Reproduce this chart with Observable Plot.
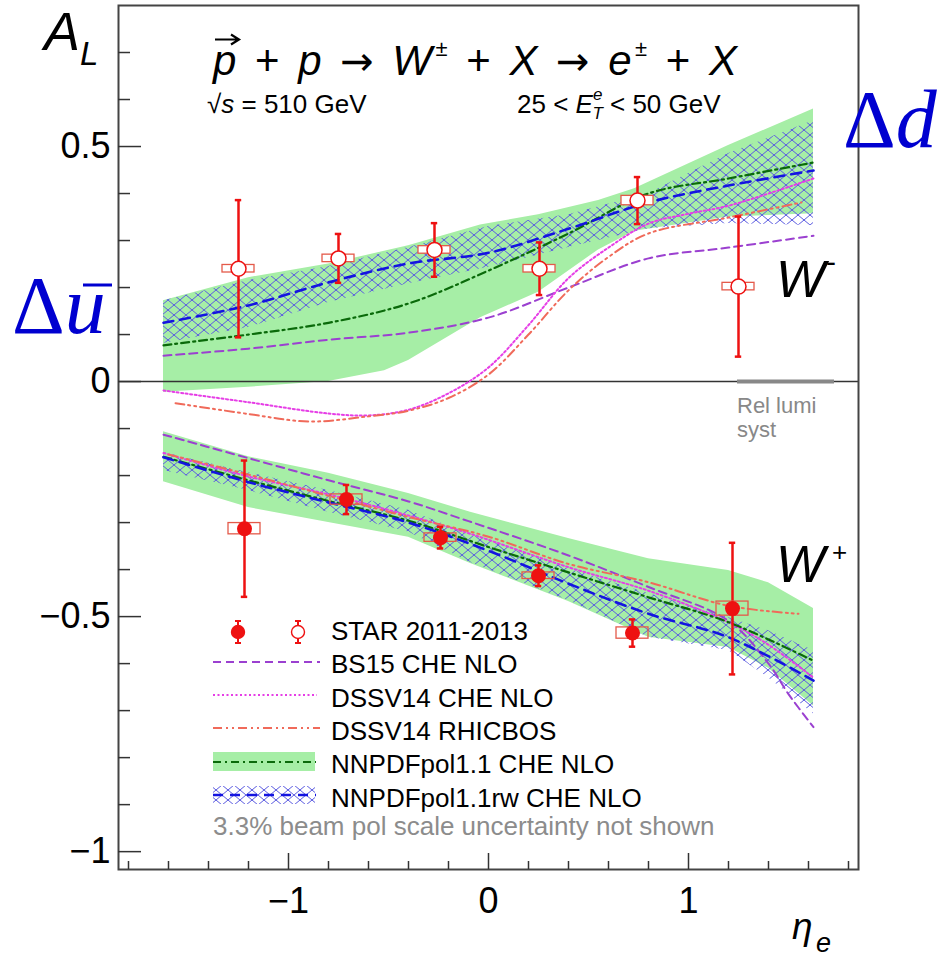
<!DOCTYPE html>
<html><head><meta charset="utf-8">
<script src="https://cdn.jsdelivr.net/npm/d3@7"></script>
<script src="https://cdn.jsdelivr.net/npm/@observablehq/plot@0.6"></script>
<style>body{margin:0;background:#fff}#chart{width:949px;height:960px}</style>
</head><body><div id="chart"></div>
<script>
// ---------- tick labels ----------
const xTickValues = [-1, 0, 1];
const xTickLabels = ["−1", "0", "1"];
const yTickValues = [-1, -0.5, 0, 0.5];
const yTickLabels = ["−1", "−0.5", "0", "0.5"];

// ---------- STAR 2011-2013 data ----------
const etaWm = [-1.25, -0.75, -0.27, 0.255, 0.745, 1.25];
const alWm  = [0.24, 0.262, 0.28, 0.24, 0.385, 0.202];
const errWm = [0.146, 0.052, 0.057, 0.056, 0.05, 0.149];
const sysWm = [0.008, 0.008, 0.008, 0.008, 0.01, 0.008];

const etaWp = [-1.22, -0.71, -0.24, 0.25, 0.72, 1.22];
const alWp  = [-0.313, -0.251, -0.332, -0.413, -0.535, -0.483];
const errWp = [0.145, 0.031, 0.023, 0.022, 0.029, 0.14];
const sysWp = [0.012, 0.011, 0.009, 0.007, 0.012, 0.015];

// ---------- theory curves ----------
const gridEta = [-1.625, -1.2, -0.8, -0.4, 0, 0.4, 0.8, 1.2, 1.625];

// BS15 CHE NLO
const bs15WmEta = gridEta;
const bs15Wm = [0.055, 0.07, 0.089, 0.104, 0.136, 0.2, 0.262, 0.285, 0.31];
const bs15WpEta = [-1.625, -1.2, -0.8, -0.4, -0.1, 0.4, 0.8, 1.2, 1.4, 1.5, 1.625];
const bs15Wp = [-0.113, -0.163, -0.21, -0.255, -0.297, -0.37, -0.437, -0.509, -0.6, -0.665, -0.735];

// DSSV14 CHE NLO
const dssvWmEta = [-1.625, -1.2, -0.8, -0.6, -0.4, -0.2, 0, 0.2, 0.4, 0.6, 0.8, 1.0, 1.2, 1.625];
const dssvWm = [-0.019, -0.044, -0.068, -0.072, -0.06, -0.025, 0.03, 0.12, 0.22, 0.285, 0.336, 0.357, 0.374, 0.432];
const dssvWpEta = [-1.625, -1.2, -0.8, -0.4, -0.09, 0.4, 0.8, 1.2, 1.4, 1.625];
const dssvWp = [-0.152, -0.202, -0.24, -0.285, -0.324, -0.395, -0.445, -0.512, -0.56, -0.63];

// DSSV14 RHICBOS
const rhicWmEta = [-1.565, -1.2, -0.9, -0.6, -0.4, -0.2, 0, 0.2, 0.4, 0.6, 0.8, 1.2, 1.565];
const rhicWm = [-0.046, -0.069, -0.085, -0.074, -0.062, -0.035, 0.015, 0.1, 0.194, 0.265, 0.315, 0.349, 0.381];
const rhicWpEta = [-1.6, -1.2, -0.8, -0.4, 0, 0.4, 0.8, 1.2, 1.55];
const rhicWp = [-0.155, -0.198, -0.243, -0.288, -0.33, -0.388, -0.427, -0.477, -0.494];

// NNPDFpol1.1 CHE NLO (central + band)
const nnWm = [0.077, 0.1, 0.125, 0.166, 0.236, 0.315, 0.4, 0.432, 0.466];
const nnWp = [-0.16, -0.21, -0.254, -0.296, -0.352, -0.406, -0.459, -0.512, -0.594];
const nnBandWmEta = [-1.625, -1.2, -0.8, -0.52, -0.4, -0.04, 0.25, 0.55, 0.73, 1.2, 1.625];
const nnBandWmHi = [0.172, 0.221, 0.25, 0.277, 0.289, 0.333, 0.355, 0.385, 0.41, 0.502, 0.58];
const nnBandWmLo = [-0.023, -0.012, 0.0, 0.023, 0.045, 0.136, 0.19, 0.28, 0.32, 0.35, 0.357];
const nnBandWpEta = [-1.625, -1.2, -0.8, -0.4, -0.09, 0.4, 0.8, 1.2, 1.4, 1.625];
const nnBandWpHi = [-0.107, -0.16, -0.195, -0.238, -0.278, -0.334, -0.377, -0.402, -0.428, -0.483];
const nnBandWpLo = [-0.213, -0.268, -0.3, -0.331, -0.387, -0.468, -0.544, -0.566, -0.61, -0.69];

// NNPDFpol1.1rw CHE NLO (central + band)
const rwWm = [0.125, 0.162, 0.211, 0.251, 0.274, 0.325, 0.381, 0.417, 0.449];
const rwWp = [-0.161, -0.214, -0.257, -0.3, -0.36, -0.43, -0.494, -0.544, -0.636];
const rwBandWmHi = [0.172, 0.215, 0.245, 0.285, 0.33, 0.355, 0.4, 0.485, 0.555];
const rwBandWmLo = [0.081, 0.115, 0.168, 0.208, 0.243, 0.285, 0.325, 0.336, 0.332];
const rwBandWpEta = [-1.625, -1.2, -0.8, -0.4, -0.09, 0.4, 0.8, 1.2, 1.4, 1.625];
const rwBandWpHi = [-0.151, -0.194, -0.232, -0.274, -0.326, -0.398, -0.451, -0.502, -0.53, -0.572];
const rwBandWpLo = [-0.189, -0.232, -0.278, -0.32, -0.385, -0.466, -0.544, -0.572, -0.63, -0.707];

// relative luminosity systematic band extent (eta)
const relLumiEta = [1.245, 1.73];

// legend labels
const legendLabels = ["STAR 2011-2013", "BS15 CHE NLO", "DSSV14 CHE NLO", "DSSV14 RHICBOS", "NNPDFpol1.1 CHE NLO", "NNPDFpol1.1rw CHE NLO"];
const legendNote = "3.3% beam pol scale uncertainty not shown";

// ---------- helpers ----------
const pts = (eta, A, err, sys) => eta.map((e, i) => ({eta: e, A: A[i], err: err[i], sys: sys[i]}));
const tbl = (xs, ys) => xs.map((x, i) => ({eta: x, A: ys[i]}));
const band = (xs, lo, hi) => xs.map((x, i) => ({eta: x, lo: lo[i], hi: hi[i]}));

const FONT = "'Liberation Sans', Arial, Helvetica, sans-serif";
const SERIF = "'Liberation Serif', 'DejaVu Serif', serif";
const GREEN = "#a6eea6";
const RED = "#ee1111";
const BOXRED = "#e45a4a";
const C_BS = "#9b40d0", C_DS = "#e63ee6", C_RH = "#f06a5a", C_NN = "#0a6a0a", C_RW = "#1414e0";
const D_BS = "8,5", D_DS = "2,2.5", D_RH = "9,4,2,4,2,4", D_NN = "8,4,2,4", D_RW = "10,7";

const starWm = pts(etaWm, alWm, errWm, sysWm);
const starWp = pts(etaWp, alWp, errWp, sysWp);
const capHalf = 0.016, boxHalf = 0.08;

const curve = (xs, ys, stroke, dash, w) => Plot.line(tbl(xs, ys), {x: "eta", y: "A", stroke, strokeDasharray: dash, strokeWidth: w, curve: "catmull-rom"});

const errMarks = (data, open) => [
  Plot.ruleX(data, {x: "eta", y1: d => d.A - d.err, y2: d => d.A + d.err, stroke: RED, strokeWidth: 2.5}),
  Plot.ruleY(data, {y: d => d.A + d.err, x1: d => d.eta - capHalf, x2: d => d.eta + capHalf, stroke: RED, strokeWidth: 2.5}),
  Plot.ruleY(data, {y: d => d.A - d.err, x1: d => d.eta - capHalf, x2: d => d.eta + capHalf, stroke: RED, strokeWidth: 2.5}),
  Plot.rect(data, {x1: d => d.eta - boxHalf, x2: d => d.eta + boxHalf, y1: d => d.A - d.sys, y2: d => d.A + d.sys,
    stroke: BOXRED, strokeWidth: 1.3, fill: open ? "white" : "none"}),
  open
    ? Plot.dot(data, {x: "eta", y: "A", r: 7.5, fill: "white", stroke: RED, strokeWidth: 1.5})
    : Plot.dot(data, {x: "eta", y: "A", r: 7.5, fill: RED, stroke: "none"})
];

const plotW = 949 - 118 - 91, plotH = 960 - 5 - 91;
const minorY = d3.range(-10, 8).map(i => i / 10).filter(v => !yTickValues.some(t => Math.abs(t - v) < 1e-9));
const minorX = d3.range(-9, 10).map(i => i / 5).filter(v => !xTickValues.some(t => Math.abs(t - v) < 1e-9));

const svg = Plot.plot({
  width: 949, height: 960,
  marginLeft: 118, marginRight: 91, marginTop: 5, marginBottom: 91,
  x: {domain: [-1.85, 1.85]},
  y: {domain: [-1.038, 0.8]},
  style: {fontFamily: FONT, background: "#fff", color: "#000"},
  marks: [
    Plot.areaY(band(nnBandWmEta, nnBandWmLo, nnBandWmHi), {x: "eta", y1: "lo", y2: "hi", fill: GREEN}),
    Plot.areaY(band(nnBandWpEta, nnBandWpLo, nnBandWpHi), {x: "eta", y1: "lo", y2: "hi", fill: GREEN}),
    Plot.areaY(band(gridEta, rwBandWmLo, rwBandWmHi), {x: "eta", y1: "lo", y2: "hi", fill: "url(#xhatch)"}),
    Plot.areaY(band(rwBandWpEta, rwBandWpLo, rwBandWpHi), {x: "eta", y1: "lo", y2: "hi", fill: "url(#xhatch)"}),
    Plot.ruleY([0], {stroke: "#333", strokeWidth: 1.5}),
    Plot.ruleY([0], {x1: relLumiEta[0], x2: relLumiEta[1], stroke: "#888", strokeWidth: 4}),
    curve(bs15WmEta, bs15Wm, C_BS, D_BS, 2),
    curve(bs15WpEta, bs15Wp, C_BS, D_BS, 2),
    curve(dssvWmEta, dssvWm, C_DS, D_DS, 2),
    curve(dssvWpEta, dssvWp, C_DS, D_DS, 2),
    curve(rhicWmEta, rhicWm, C_RH, D_RH, 2),
    curve(rhicWpEta, rhicWp, C_RH, D_RH, 2),
    curve(gridEta, nnWm, C_NN, D_NN, 2.2),
    curve(gridEta, nnWp, C_NN, D_NN, 2.2),
    curve(gridEta, rwWm, C_RW, D_RW, 2.6),
    curve(gridEta, rwWp, C_RW, D_RW, 2.6),
    ...errMarks(starWm, true),
    ...errMarks(starWp, false),
    Plot.frame({stroke: "#444", strokeWidth: 2}),
    Plot.ruleY(yTickValues, {insetRight: plotW - 23, stroke: "#333", strokeWidth: 1.5}),
    Plot.ruleY(minorY, {insetRight: plotW - 12, stroke: "#333", strokeWidth: 1.5}),
    Plot.ruleX(xTickValues, {insetTop: plotH - 16, stroke: "#333", strokeWidth: 1.5}),
    Plot.ruleX(minorX, {insetTop: plotH - 8, stroke: "#333", strokeWidth: 1.5}),
    Plot.axisY({ticks: yTickValues, tickSize: 0, tickPadding: 8, fontSize: 36, label: null,
      tickFormat: d => yTickLabels[yTickValues.findIndex(t => Math.abs(t - d) < 1e-9)]}),
    Plot.axisX({ticks: xTickValues, tickSize: 0, tickPadding: 18, fontSize: 36, label: null,
      tickFormat: d => xTickLabels[xTickValues.findIndex(t => Math.abs(t - d) < 1e-9)]})
  ]
});

const s = d3.select(svg);
s.insert("defs", ":first-child").html(
  `<pattern id="xhatch" patternUnits="userSpaceOnUse" width="12" height="10">
     <path d="M-1.2,-1L13.2,11M13.2,-1L-1.2,11" stroke="#5a5ae0" stroke-width="1" fill="none"/>
   </pattern>`);

// annotations
const it = t => `<tspan font-style="italic">${t}</tspan>`;
const arrow = `<tspan font-family="'DejaVu Sans', sans-serif" font-size="40">→</tspan>`;
s.append("g").attr("font-family", FONT).attr("fill", "#000").attr("text-anchor", "start").html(`
<text x="44" y="50" font-size="54" font-style="italic">A</text>
<text x="80" y="65" font-size="33" font-style="italic">L</text>
<path d="M215,39.5H238M231,34.5L239,39.5L231,44.5" fill="none" stroke="#000" stroke-width="2.2" stroke-linejoin="miter"/>
<text x="213" y="75" font-size="42" textLength="524" lengthAdjust="spacing">${it("p")} + ${it("p")} ${arrow} ${it("W")}<tspan font-size="22" dy="-19">±</tspan><tspan dy="19"> + </tspan>${it("X")} ${arrow} ${it("e")}<tspan font-size="22" dy="-19">±</tspan><tspan dy="19"> + </tspan>${it("X")}</text>
<text x="207" y="113" font-size="26">√${it("s")} = 510 GeV</text>
<text x="517" y="113" font-size="26">25 &lt; ${it("E")}<tspan font-size="17" font-style="italic" dy="-13">e</tspan><tspan font-size="17" font-style="italic" dx="-10" dy="19">T</tspan><tspan dy="-6"> &lt; 50 GeV</tspan></text>
<text x="776" y="297" font-size="52" font-style="italic">W</text>
<text x="826" y="272" font-size="30">-</text>
<text x="776" y="582" font-size="52" font-style="italic">W</text>
<text x="832" y="561" font-size="26">+</text>
<text x="737" y="413" font-size="22" fill="#888">Rel lumi</text>
<text x="737" y="437" font-size="22" fill="#888">syst</text>
<text x="792" y="939" font-size="37" font-style="italic">η</text>
<text x="816" y="952" font-size="27" font-style="italic">e</text>
<text x="843" y="147" font-size="82" font-family="${SERIF}" fill="#0000d0">Δ<tspan font-style="italic">d</tspan></text>
<text x="12" y="333" font-size="82" font-family="${SERIF}" fill="#0000d0">Δ<tspan font-style="italic">u</tspan></text>
<line x1="83" x2="112" y1="285" y2="285" stroke="#0000d0" stroke-width="3"/>
`);

// legend
const rowsY = [632, 662, 695, 728, 762, 795];
const baseY = [640, 673, 707, 740, 773, 807];
const lg = s.append("g").attr("font-family", FONT).attr("text-anchor", "start");
const mk = (cx, open) => `
  <line x1="${cx}" x2="${cx}" y1="621" y2="643" stroke="${RED}" stroke-width="2"/>
  <line x1="${cx-3}" x2="${cx+3}" y1="621" y2="621" stroke="${RED}" stroke-width="2"/>
  <line x1="${cx-3}" x2="${cx+3}" y1="643" y2="643" stroke="${RED}" stroke-width="2"/>
  <circle cx="${cx}" cy="632" r="6.5" fill="${open ? "white" : RED}" stroke="${RED}" stroke-width="1.4"/>`;
lg.html(`
  ${mk(238, false)}${mk(298, true)}
  <line x1="213" x2="320" y1="${rowsY[1]}" y2="${rowsY[1]}" stroke="${C_BS}" stroke-width="2" stroke-dasharray="${D_BS}"/>
  <line x1="213" x2="317" y1="${rowsY[2]}" y2="${rowsY[2]}" stroke="${C_DS}" stroke-width="2" stroke-dasharray="${D_DS}"/>
  <line x1="213" x2="320" y1="${rowsY[3]}" y2="${rowsY[3]}" stroke="${C_RH}" stroke-width="2" stroke-dasharray="${D_RH}"/>
  <rect x="213" y="${rowsY[4]-10}" width="102" height="19" fill="${GREEN}"/>
  <line x1="213" x2="316" y1="${rowsY[4]}" y2="${rowsY[4]}" stroke="${C_NN}" stroke-width="2.2" stroke-dasharray="${D_NN}"/>
  <rect x="213" y="${rowsY[5]-9}" width="102" height="18" fill="url(#xhatch)"/>
  <line x1="213" x2="316" y1="${rowsY[5]}" y2="${rowsY[5]}" stroke="${C_RW}" stroke-width="2.6" stroke-dasharray="${D_RW}"/>
  ${legendLabels.map((t, i) => `<text x="331" y="${baseY[i]}" font-size="26" fill="#000">${t}</text>`).join("")}
  <text x="213" y="835" font-size="26" fill="#8c8c8c">${legendNote}</text>
`);

document.getElementById("chart").appendChild(svg);
</script></body></html>
